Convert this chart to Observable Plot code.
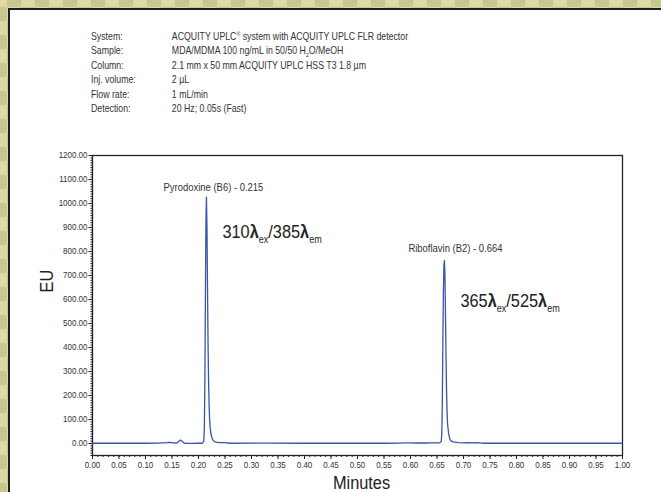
<!DOCTYPE html>
<html>
<head>
<meta charset="utf-8">
<script src="https://cdn.jsdelivr.net/npm/d3@7"></script>
<script src="https://cdn.jsdelivr.net/npm/@observablehq/plot@0.6"></script>
<style>
  html, body { margin: 0; padding: 0; }
  body { width: 661px; height: 492px; overflow: hidden; }
  #page {
    position: relative; width: 661px; height: 492px;
    background-color: #dcdaa2;
    background-image: conic-gradient(#c9c68f 25%, #dcdaa2 0 50%, #c9c68f 0 75%, #dcdaa2 0);
    background-size: 28px 28px;
    background-position: 7px 7px;
    font-family: "Liberation Sans", Arial, sans-serif;
  }
  #panel {
    position: absolute; left: 8px; top: 8px; right: 0; bottom: 0;
    background: #fff;
    border-left: 2px solid #1d1d26; border-top: 2px solid #1d1d26;
  }
  #meta {
    position: absolute; left: 91px; top: 30px;
    font-size: 10.2px; color: #333; line-height: 14.4px;
    transform: scaleX(0.86); transform-origin: 0 0;
  }
  #meta .row { display: flex; white-space: nowrap; height: 14.4px; }
  #meta .k { width: 94px; }
  #meta sup, #meta sub { font-size: 6px; line-height: 0; }
  #chart { position: absolute; left: 0; top: 130px; }
  #chart svg { overflow: visible; }
</style>
</head>
<body>
<div id="page">
  <div id="panel"></div>
  <div id="meta"></div>
  <div id="chart"></div>
</div>
<script>
// ---- Header (method conditions)
const metaKeys = ["System:", "Sample:", "Column:", "Inj. volume:", "Flow rate:", "Detection:"];
const metaVals = [
  "ACQUITY UPLC<sup>®</sup> system with ACQUITY UPLC FLR detector",
  "MDA/MDMA 100 ng/mL in 50/50 H<sub>2</sub>O/MeOH",
  "2.1 mm x 50 mm ACQUITY UPLC HSS T3 1.8 µm",
  "2 µL",
  "1 mL/min",
  "20 Hz; 0.05s (Fast)"
];

// ---- Chromatogram trace (minutes, EU)
const traceTime = [
  0.000, 0.050, 0.100, 0.125, 0.130, 0.135, 0.140, 0.145, 0.150, 0.155,
  0.160, 0.163, 0.166, 0.169, 0.172, 0.175, 0.180, 0.190, 0.200, 0.205,
  0.208, 0.210, 0.211, 0.212, 0.213, 0.214, 0.215, 0.216, 0.217, 0.218,
  0.219, 0.220, 0.221, 0.222, 0.224, 0.226, 0.228, 0.230, 0.235, 0.240,
  0.245, 0.250, 0.255, 0.260, 0.330, 0.400, 0.550, 0.580, 0.590, 0.600,
  0.610, 0.620, 0.630, 0.640, 0.650, 0.655, 0.658, 0.659, 0.660, 0.661,
  0.662, 0.663, 0.664, 0.665, 0.666, 0.667, 0.668, 0.669, 0.670, 0.672,
  0.674, 0.676, 0.680, 0.690, 0.700, 0.710, 0.720, 0.725, 0.730, 0.740,
  0.800, 0.900, 1.000
];
const traceEU = [
  1, 1, 1, 1.5, 3, 3, 3.5, 5, 4, 2,
  3, 9, 14, 9, 3, 1, 0.5, 0.5, 1, 1,
  2, 10, 60, 250, 600, 920, 1026, 900, 650, 420,
  260, 160, 100, 65, 35, 20, 12, 8, 5, 4,
  4, 4, 2, 1, 1.5, 1, 1, 1.5, 3, 2.5,
  2, 2.5, 2, 2.5, 3, 3, 8, 40, 160, 400,
  620, 740, 762, 700, 540, 360, 220, 130, 80, 40,
  20, 12, 7, 4, 3, 3.5, 3, 4, 3, 1,
  1, 1, 1
];

// ---- Peak annotations
const peakTime = [0.215, 0.664];
const peakEU = [1026, 762];
const peakNames = ["Pyrodoxine (B6) - 0.215", "Riboflavin (B2) - 0.664"];
const excite = ["310", "365"];
const emit = ["385", "525"];
const wlEU = [880, 596];

// ---- Axis ticks
const yMajor = d3.range(0, 1201, 100);
const yMinor = d3.range(-50, 1201, 10);
const xMajor = d3.range(0, 21).map(i => i * 0.05);
const xMinor = d3.range(0, 101).map(i => i / 100);

// header
const meta = document.getElementById("meta");
metaKeys.forEach((k, i) => {
  const row = document.createElement("div");
  row.className = "row";
  row.innerHTML = `<span class="k">${k}</span><span class="v">${metaVals[i]}</span>`;
  meta.appendChild(row);
});

const trace = traceTime.map((t, i) => ({t, eu: traceEU[i]}));
const peaks = peakTime.map((t, i) => ({t, eu: peakEU[i], name: peakNames[i], ex: excite[i], em: emit[i], wl: wlEU[i]}));

const font = `"Liberation Sans", Arial, sans-serif`;
const lineColor = "#3b55a6";

const plot = Plot.plot({
  width: 661,
  height: 362,
  marginLeft: 92,
  marginRight: 39,
  marginTop: 25,
  marginBottom: 37,
  style: {background: "transparent", fontFamily: font, color: "#333", overflow: "visible"},
  x: {domain: [0, 1]},
  y: {domain: [-50, 1200]},
  marks: [
    Plot.axisY(yMinor, {tickSize: 1.5, tickFormat: () => "", label: null, stroke: "#222"}),
    Plot.axisY(yMajor, {tickSize: 3.5, tickPadding: 1.5, tickFormat: d3.format(".2f"), label: null, fontSize: 9.3, stroke: "#222", fill: "#333"}),
    Plot.axisX(xMinor, {tickSize: 2, tickFormat: () => "", label: null, stroke: "#222"}),
    Plot.axisX(xMajor, {tickSize: 4, tickPadding: 2, tickFormat: d3.format(".2f"), label: null, fontSize: 9.3, stroke: "#222", fill: "#333"}),
    Plot.frame({stroke: "#222", strokeWidth: 1.3}),
    Plot.line(trace, {x: "t", y: "eu", stroke: lineColor, strokeWidth: 1.3}),
    Plot.text(peaks.slice(0, 1), {x: "t", y: "eu", text: "name", dx: 7, dy: -10, fontSize: 11, fill: "#333"}),
    Plot.text(peaks.slice(1, 2), {x: "t", y: "eu", text: "name", dx: 11, dy: -12, fontSize: 11, fill: "#333"}),
    Plot.text(peaks, {x: "t", y: "wl", text: d => `${d.ex}λex/${d.em}λem`, textAnchor: "start", dx: 16, fontSize: 19, fill: "#222", className: "wl"}),
    Plot.text(["EU"], {frameAnchor: "left", rotate: -90, dx: -46, dy: -13, fontSize: 19, fill: "#222"}),
    Plot.text(["Minutes"], {frameAnchor: "bottom", lineAnchor: "middle", dy: 27, dx: 4, fontSize: 19, fill: "#222"})
  ]
});

document.getElementById("chart").appendChild(plot);

// Subscripted wavelength labels (ex / em)
d3.select(plot).selectAll("g.wl text").each(function(i) {
  const d = peaks[typeof i === "number" ? i : 0];
  const t = d3.select(this);
  t.text(null);
  t.append("tspan").text(d.ex);
  t.append("tspan").text("λ").attr("font-weight", "bold");
  t.append("tspan").text("ex").attr("font-size", 10.5).attr("dy", 5);
  t.append("tspan").text("/" + d.em).attr("dy", -5);
  t.append("tspan").text("λ").attr("font-weight", "bold");
  t.append("tspan").text("em").attr("font-size", 10.5).attr("dy", 5);
});

// Condensed look of the original typeface: squeeze each text along its baseline
plot.querySelectorAll("text").forEach(t => {
  const tr = t.getAttribute("transform");
  if (tr && !t.hasAttribute("x")) t.setAttribute("transform", tr + " scale(0.86,1)");
});
</script>
</body>
</html>
